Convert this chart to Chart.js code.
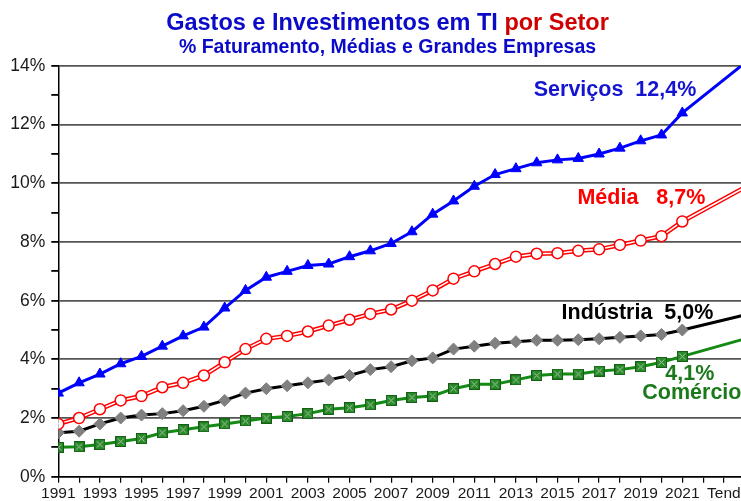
<!DOCTYPE html>
<html>
<head>
<meta charset="utf-8">
<script src="https://cdn.jsdelivr.net/npm/chart.js@4"></script>
<style>
  html, body { margin: 0; padding: 0; background: #fff; overflow: hidden; }
  #wrap { position: relative; width: 760px; height: 510px; }
  #titulo { position: absolute; left: 17px; top: 9px; width: 741px; text-align: center;
            font-family: "Liberation Sans", Arial, sans-serif; font-weight: bold; }
  #titulo .l1 { font-size: 23.5px; color: #0a0ac8; line-height: 26px; }
  #titulo .l1 span { color: #d00000; }
  #titulo .l2 { font-size: 19.5px; color: #0a0ac8; line-height: 22px; }
</style>
</head>
<body>
<div id="wrap">
  <canvas id="grafico" width="760" height="510"></canvas>
  <div id="titulo">
    <div class="l1">Gastos e Investimentos em TI <span>por Setor</span></div>
    <div class="l2">% Faturamento, Médias e Grandes Empresas</div>
  </div>
</div>
<script>
// anos com dado observado
const anos = [1991, 1992, 1993, 1994, 1995, 1996, 1997, 1998, 1999, 2000,
              2001, 2002, 2003, 2004, 2005, 2006, 2007, 2008, 2009, 2010,
              2011, 2012, 2013, 2014, 2015, 2016, 2017, 2018, 2019, 2020, 2021];

// % do faturamento
const servicos  = [2.85, 3.2, 3.5, 3.85, 4.1, 4.45, 4.8, 5.1, 5.75, 6.35,
                   6.8, 7.0, 7.2, 7.25, 7.5, 7.7, 7.95, 8.35, 8.95, 9.4,
                   9.9, 10.3, 10.5, 10.7, 10.8, 10.85, 11.0, 11.2, 11.45, 11.65, 12.4];
const media     = [1.8, 2.0, 2.3, 2.6, 2.75, 3.05, 3.2, 3.45, 3.9, 4.35,
                   4.7, 4.8, 4.95, 5.15, 5.35, 5.55, 5.7, 6.0, 6.35, 6.75,
                   7.0, 7.25, 7.5, 7.6, 7.62, 7.7, 7.75, 7.9, 8.05, 8.2, 8.7];
const industria = [1.5, 1.55, 1.8, 2.0, 2.1, 2.15, 2.25, 2.4, 2.6, 2.85,
                   3.0, 3.1, 3.2, 3.3, 3.45, 3.65, 3.75, 3.95, 4.05, 4.35,
                   4.45, 4.55, 4.6, 4.65, 4.65, 4.67, 4.7, 4.75, 4.8, 4.85, 5.0];
const comercio  = [1.0, 1.02, 1.1, 1.2, 1.3, 1.5, 1.6, 1.7, 1.8, 1.9,
                   2.0, 2.05, 2.15, 2.3, 2.35, 2.45, 2.6, 2.7, 2.75, 3.0,
                   3.15, 3.15, 3.3, 3.45, 3.5, 3.5, 3.6, 3.65, 3.75, 3.9, 4.1];

// linha de tendência: ponto final em 2024
const anoTend = 2024;
const tendServicos = 14.1, tendMedia = 9.86, tendIndustria = 5.51, tendComercio = 4.7;

// rótulos do eixo x (anos ímpares + "Tend")
const rotulosX = { 2023: 'Tend' };
const rotulosY = ['0%', '2%', '4%', '6%', '8%', '10%', '12%', '14%'];

const pontos = (vals, fim) => anos.map((a, i) => ({ x: a, y: vals[i] })).concat([{ x: anoTend, y: fim }]);
const ultimo = anos.length; // índice do ponto de tendência (sem marcador)
const raio = (r) => (c) => c.dataIndex === ultimo ? 0 : r;

// marcador verde: quadrado com X
const quad = document.createElement('canvas');
quad.width = 11; quad.height = 11;
(() => {
  const g = quad.getContext('2d');
  g.fillStyle = '#2a8a2a';
  g.fillRect(0.5, 0.5, 10, 10);
  g.strokeStyle = '#146014';
  g.lineWidth = 1;
  g.strokeRect(0.5, 0.5, 10, 10);
  g.strokeStyle = '#a8c8a8';
  g.beginPath();
  g.moveTo(2.5, 2.5); g.lineTo(8.5, 8.5);
  g.moveTo(8.5, 2.5); g.lineTo(2.5, 8.5);
  g.stroke();
})();

// rótulos das séries, desenhados junto ao ano de 2021
const rotulosSerie = {
  id: 'rotulosSerie',
  afterDatasetsDraw(chart) {
    const { ctx } = chart;
    const x = chart.scales.x.getPixelForValue(2021);
    const y = chart.scales.y;
    const n = anos.length - 1;
    ctx.save();
    ctx.font = 'bold 21.5px "Liberation Sans", Arial, sans-serif';
    ctx.textBaseline = 'middle';
    ctx.textAlign = 'right';
    ctx.fillStyle = '#1414d2';
    ctx.fillText('Serviços  12,4%', x + 14, y.getPixelForValue(servicos[n]) - 23);
    ctx.fillStyle = '#ff0000';
    ctx.fillText('Média   8,7%', x + 23, y.getPixelForValue(media[n]) - 23);
    ctx.fillStyle = '#000000';
    ctx.fillText('Indústria  5,0%', x + 31, y.getPixelForValue(industria[n]) - 17);
    ctx.fillStyle = '#1a7a1a';
    ctx.fillText('4,1%', x + 32, y.getPixelForValue(comercio[n]) + 18);
    ctx.textAlign = 'left';
    ctx.fillText('Comércio', x - 40, y.getPixelForValue(comercio[n]) + 37);
    ctx.restore();
  }
};

const familia = '"Liberation Sans", Arial, sans-serif';

new Chart(document.getElementById('grafico'), {
  type: 'line',
  data: {
    // a ordem importa: o primeiro conjunto fica por cima
    datasets: [
      {
        label: 'Serviços',
        data: pontos(servicos, tendServicos),
        borderColor: '#0000ff',
        backgroundColor: '#0000ff',
        borderWidth: 3,
        pointStyle: 'triangle',
        pointRadius: raio(6),
        pointBorderWidth: 1
      },
      {
        label: 'Média',
        data: pontos(media, tendMedia),
        borderColor: '#ffffff',
        backgroundColor: '#ffffff',
        borderWidth: 1.5,
        pointStyle: 'circle',
        pointRadius: raio(5.5),
        pointBorderColor: '#ff0000',
        pointBorderWidth: 1.5
      },
      {
        // contorno vermelho da linha dupla
        label: 'Média (contorno)',
        data: pontos(media, tendMedia),
        borderColor: '#ff0000',
        borderWidth: 4.5,
        pointRadius: 0
      },
      {
        label: 'Indústria',
        data: pontos(industria, tendIndustria),
        borderColor: '#000000',
        backgroundColor: '#808080',
        borderWidth: 3,
        pointStyle: 'rectRot',
        pointRadius: raio(6),
        pointBorderColor: '#808080',
        pointBorderWidth: 1
      },
      {
        label: 'Comércio',
        data: pontos(comercio, tendComercio),
        borderColor: '#138a13',
        backgroundColor: '#138a13',
        borderWidth: 3,
        pointStyle: quad,
        pointRadius: raio(6)
      }
    ]
  },
  options: {
    responsive: false,
    animation: false,
    // área do gráfico passa um pouco da borda direita da página, como no original
    layout: { padding: { top: 66, right: 15.3, left: 0, bottom: 0 } },
    plugins: {
      legend: { display: false },
      tooltip: { enabled: false }
    },
    elements: { line: { tension: 0 } },
    scales: {
      x: {
        type: 'linear',
        min: 1991,
        max: anoTend,
        afterFit: (s) => { s.height = 33.3; s.paddingLeft = 0; s.paddingRight = 0; },
        border: { color: '#000', width: 1.5 },
        grid: { drawOnChartArea: false, drawTicks: true, tickLength: 6, color: '#000', lineWidth: 1.2 },
        ticks: {
          stepSize: 1,
          autoSkip: false,
          maxRotation: 0,
          padding: 2,
          color: '#1a1a1a',
          font: { family: familia, size: 15.5 },
          callback: (v) => rotulosX[v] || ((v % 2 === 1 && v <= 2021) ? String(v) : '')
        }
      },
      y: {
        min: 0,
        max: 14,
        afterFit: (s) => { s.width = 58.3; },
        border: { color: '#000', width: 1.5 },
        grid: {
          color: (c) => (c.tick && c.tick.value % 2 === 0) ? '#555555' : 'rgba(0,0,0,0)',
          tickColor: '#000',
          lineWidth: 1.8,
          tickLength: 7
        },
        ticks: {
          stepSize: 1,
          padding: 6,
          color: '#1a1a1a',
          font: { family: familia, size: 17.5 },
          callback: (v) => v % 2 === 0 ? rotulosY[v / 2] : ''
        }
      }
    }
  },
  plugins: [rotulosSerie]
});
</script>
</body>
</html>
